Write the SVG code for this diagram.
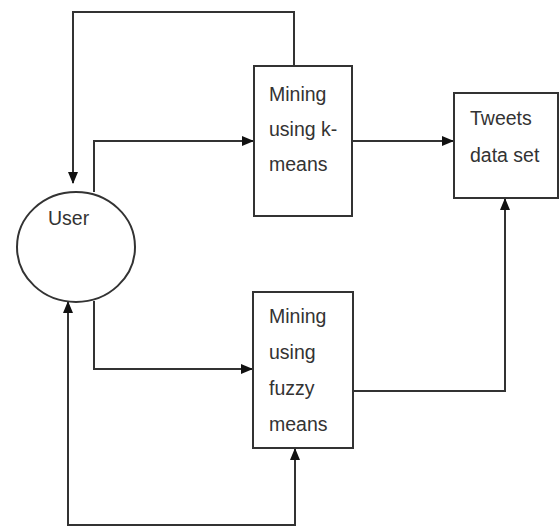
<svg xmlns="http://www.w3.org/2000/svg" width="559" height="527" viewBox="0 0 559 527">
<style>
.box{fill:#fff;stroke:#333;stroke-width:2}
.ln{fill:none;stroke:#333;stroke-width:2}
text{font-family:"Liberation Sans",Arial,sans-serif;font-size:19.5px;fill:#333}
</style>
<defs>
<marker id="ah" markerWidth="12" markerHeight="10" refX="11" refY="5" orient="auto-start-reverse" markerUnits="userSpaceOnUse">
<path d="M0,0 L12,5 L0,10 Z" fill="#111"/>
</marker>
</defs>
<rect width="559" height="527" fill="#fff"/>
<g id="connectors">
<path class="ln" d="M294,66 V12 H73 V183" marker-end="url(#ah)"/>
<path class="ln" d="M94,192 V141 H253" marker-end="url(#ah)"/>
<path class="ln" d="M352,141 H453" marker-end="url(#ah)"/>
<path class="ln" d="M94,301 V369 H252" marker-end="url(#ah)"/>
<path class="ln" d="M353,391 H505 V199" marker-end="url(#ah)"/>
<path class="ln" d="M295,449 V525 H68 V302" marker-start="url(#ah)" marker-end="url(#ah)"/>
</g>
<g id="user">
<ellipse class="box" cx="76" cy="247" rx="59" ry="55"/>
<text x="48" y="225">User</text>
</g>
<g id="kmeans">
<rect class="box" x="254" y="66" width="98" height="150"/>
<text x="269" y="101">Mining</text>
<text x="269" y="136">using k-</text>
<text x="269" y="171">means</text>
</g>
<g id="tweets">
<rect class="box" x="454" y="93" width="104" height="105"/>
<text x="470" y="125">Tweets</text>
<text x="470" y="162">data set</text>
</g>
<g id="fuzzy">
<rect class="box" x="253" y="292" width="100" height="156"/>
<text x="269" y="323">Mining</text>
<text x="269" y="359">using</text>
<text x="269" y="395">fuzzy</text>
<text x="269" y="431">means</text>
</g>
</svg>
